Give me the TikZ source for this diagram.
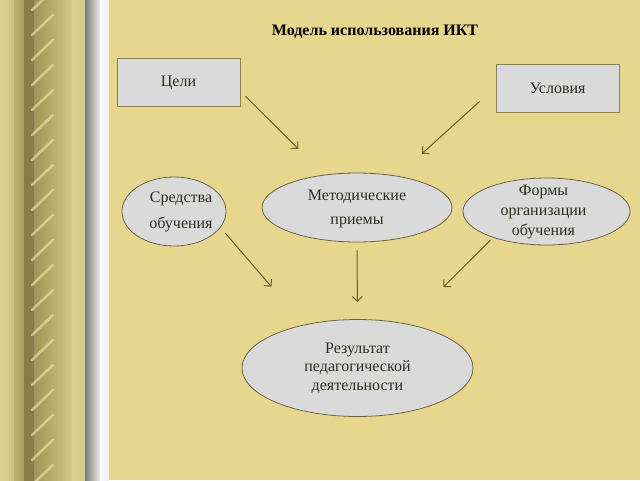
\documentclass[tikz,border=0pt]{standalone}
\usepackage{fontspec}
\setmainfont{Liberation Serif}
\usetikzlibrary{shapes.geometric, arrows.meta}

\definecolor{fon}{RGB}{230,214,142}
\definecolor{plashka}{RGB}{218,218,218}
\definecolor{kant}{RGB}{140,130,80}
\definecolor{obvod}{RGB}{105,100,70}
\definecolor{strelka}{RGB}{100,94,40}
\definecolor{tekst}{RGB}{45,45,30}
\definecolor{zolA}{RGB}{222,210,146}
\definecolor{zolB}{RGB}{206,194,128}
\definecolor{zolC}{RGB}{190,178,112}
\definecolor{zolD}{RGB}{170,158,96}
\definecolor{tmnA}{RGB}{135,125,75}
\definecolor{tmnB}{RGB}{160,148,90}
\definecolor{svetA}{RGB}{212,200,136}
\definecolor{seryA}{RGB}{125,125,125}
\definecolor{seryB}{RGB}{236,236,236}
\definecolor{belyj}{RGB}{252,252,252}
\definecolor{zhgut}{RGB}{236,222,154}

\begin{document}
\begin{tikzpicture}[x=1pt, y=-1pt]
    \useasboundingbox (0,0) rectangle (640,480);
    \fill[fon] (0,0) rectangle (640,480);

    \foreach \xa/\xb/\ca/\cb in {0/14/zolA/zolB, 14/24/zolC/zolD, 24/34/tmnA/tmnA,
            34/56/tmnB/zolC, 56/72/zolC/svetA, 72/85/zolA/svetA,
            85/100/seryA/seryB, 100/109/belyj/seryB}
        \shade[left color=\ca, right color=\cb] (\xa,0) rectangle (\xb,480);
    \begin{scope}
        \clip (26,0) rectangle (58,480);
        \foreach \y in {0,25,...,500}
            \draw[zhgut, line width=2.5pt, line cap=round, opacity=0.7] (32,\y+10) -- (53,\y-10);
    \end{scope}

    \node[font=\bfseries\fontsize{16}{19}\selectfont, anchor=base] (zagolovok) at (375,35)
        {Модель использования ИКТ};

    \begin{scope}[every node/.style={rectangle, draw=kant, fill=plashka, line width=0.8pt,
            minimum width=123pt, minimum height=48pt, text=tekst, font=\fontsize{16}{19}\selectfont}]
        \node (celi) at (178.5, 82.5) {Цели};
        \node (usl)  at (557.5, 88)   {Условия};
    \end{scope}

    \begin{scope}[every node/.style={ellipse, draw=obvod, fill=plashka, line width=0.8pt, inner sep=0pt}]
        \node[minimum width=104pt, minimum height=69pt] (sredstva) at (174, 211.5)   {};
        \node[minimum width=190pt, minimum height=69pt] (metod)    at (357, 207.5)   {};
        \node[minimum width=167pt, minimum height=67pt] (formy)    at (546.5, 211.5) {};
        \node[minimum width=231pt, minimum height=97pt] (rez)      at (357.5, 368)   {};
    \end{scope}

    \begin{scope}[every node/.style={align=center, text=tekst}]
        \node[font=\fontsize{16}{26}\selectfont, xshift=7pt] (sredstva-t) at (sredstva) {Средства\\обучения};
        \node[font=\fontsize{16}{24}\selectfont, yshift=-1pt] (metod-t)    at (metod)    {Методические\\приемы};
        \node[font=\fontsize{16}{20}\selectfont, xshift=-3pt] (formy-t)    at (formy)    {Формы\\организации\\обучения};
        \node[font=\fontsize{16}{18.5}\selectfont]            (rez-t)      at (rez)      {Результат\\педагогической\\деятельности};
    \end{scope}

    \begin{scope}[>={Straight Barb[length=5pt, width=10pt]}, color=strelka, line width=1pt]
        \draw[->, shorten <=7pt,  shorten >=36.6pt] (celi.-8)     -- (metod.135);
        \draw[->, shorten <=21.6pt, shorten >=33pt] (usl.179)     -- (metod.38);
        \draw[->, shorten <=7.5pt, shorten >=50pt]  (sredstva.-19) -- (rez.141);
        \draw[->, shorten <=8pt,  shorten >=17pt]   (metod.south) -- (rez.north);
        \draw[->, shorten <=3.8pt, shorten >=52pt]  (formy.-154)  -- (rez.42);
    \end{scope}
\end{tikzpicture}
\end{document}
